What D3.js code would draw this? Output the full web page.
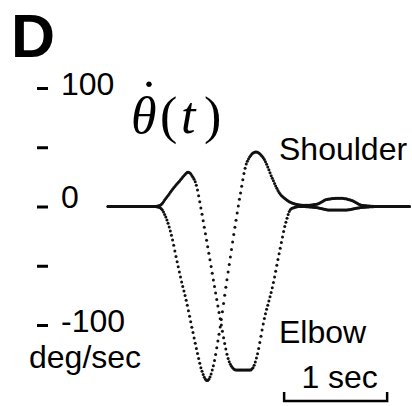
<!DOCTYPE html>
<html><head><meta charset="utf-8">
<script src="https://cdn.jsdelivr.net/npm/d3@7"></script>
<style>html,body{margin:0;padding:0;background:#fff;} svg{display:block;}</style>
</head><body>
<script>
// Joint angular velocity traces, deg/sec against time in sec
const shoulderTime = [0, 0.214, 0.456, 0.505, 0.570, 0.618, 0.667, 0.716, 0.764, 0.812, 0.861, 0.909, 0.963,
  1.021, 1.070, 1.104, 1.136, 1.184, 1.233, 1.282, 1.347, 1.437, 1.515, 1.599, 1.660, 1.728, 1.786, 1.913,
  2.029, 2.126, 2.252, 2.369, 2.466, 2.641, 2.932];
const shoulderVel = [0, 0, 0, -1, -11, -25, -45, -64, -81, -101, -121, -138, -147,
  -135, -112, -93, -73, -45, -17, 9, 37, 46, 40, 23, 12, 6, 3, 1,
  2, 6, 7, 5, 1, 0, 0];

const elbowTime = [0, 0.214, 0.456, 0.505, 0.563, 0.631, 0.699, 0.748, 0.777, 0.816, 0.861, 0.893, 0.922,
  0.958, 0.990, 1.019, 1.055, 1.104, 1.136, 1.165, 1.201, 1.243, 1.379, 1.408, 1.444, 1.517, 1.599, 1.663,
  1.728, 1.777, 1.864, 2.029, 2.155, 2.301, 2.447, 2.641, 2.932];
const elbowVel = [0, 0, 0, 1, 7, 15, 22, 27, 29, 26, 17, 3, -11,
  -29, -45, -60, -78, -102, -117, -128, -135, -138, -138, -136, -127, -95, -67, -39,
  -13, -2, 0, -1, -3, -3, -1, 0, 0];

const yTickValues = [-100, -50, 0, 50, 100];
const yTickLabels = ["-100", "", "0", "", "100"];
const unitLabel = "deg/sec";
const seriesNames = ["Shoulder", "Elbow"];
const scaleBarStart = 1.71;   // sec
const scaleBarLength = 1;     // sec
const scaleBarLabel = "1 sec";
const panelLetter = "D";
const sampleStep = 0.011;     // sec between recorded samples

const W = 412, H = 406;
const sans = "'Liberation Sans', Arial, Helvetica, sans-serif";
const serif = "'Liberation Serif', 'Times New Roman', serif";

const svg = d3.select("body").append("svg").attr("width", W).attr("height", H);
svg.append("rect").attr("width", W).attr("height", H).attr("fill", "#fff");

const x = d3.scaleLinear().domain([0, 3]).range([108, 417]);
const y = d3.scaleLinear().domain([-100, 100]).range([325, 88]);

// panel letter
svg.append("text").attr("x", 11).attr("y", 57)
  .attr("font-family", sans).attr("font-weight", "bold").attr("font-size", 61)
  .text(panelLetter);

// y axis: detached short ticks with labels to the right
const yAxis = d3.axisRight(y).tickValues(yTickValues).tickSize(11).tickPadding(13)
  .tickFormat((d, i) => yTickLabels[i]);
const ag = svg.append("g").attr("transform", "translate(37,0)").call(yAxis);
ag.select(".domain").remove();
ag.selectAll(".tick line").attr("stroke", "#000").attr("stroke-width", 3);
ag.selectAll(".tick text").attr("fill", "#000").attr("font-family", sans).attr("font-size", 32)
  .attr("dy", d => d === 0 ? "0.03em" : "0.2em");

svg.append("text").attr("x", 29).attr("y", 368)
  .attr("font-family", sans).attr("font-size", 32).text(unitLabel);

// traces: a smooth curve through the readings, drawn as the sampled points of the record
const lineGen = d3.line().x(d => x(d[0])).y(d => y(d[1])).curve(d3.curveMonotoneX);
const series = [
  d3.zip(shoulderTime, shoulderVel),
  d3.zip(elbowTime, elbowVel)
];
const guide = svg.append("g").attr("fill", "none").attr("stroke", "none");
const dotsG = svg.append("g").attr("fill", "#111");

series.forEach(pts => {
  const p = guide.append("path").attr("d", lineGen(pts)).node();
  const total = p.getTotalLength();
  const pointAtX = px => {
    let lo = 0, hi = total;
    for (let k = 0; k < 30; k++) {
      const mid = (lo + hi) / 2;
      if (p.getPointAtLength(mid).x < px) lo = mid; else hi = mid;
    }
    return p.getPointAtLength((lo + hi) / 2);
  };
  const t0 = pts[0][0], t1 = pts[pts.length - 1][0];
  const samples = d3.range(t0, t1 + 1e-9, sampleStep).map(t => pointAtX(x(t)));
  dotsG.selectAll(null).data(samples).enter().append("circle")
    .attr("cx", d => d.x).attr("cy", d => d.y).attr("r", 1.5);
});

// series labels
svg.append("text").attr("x", 279).attr("y", 160)
  .attr("font-family", sans).attr("font-size", 32).text(seriesNames[0]);
svg.append("text").attr("x", 279).attr("y", 343)
  .attr("font-family", sans).attr("font-size", 32).text(seriesNames[1]);

// angular velocity symbol: theta with a dot above, then (t)
const sym = svg.append("text").attr("font-family", serif).attr("font-size", 52).attr("fill", "#000");
sym.append("tspan").attr("x", 131).attr("y", 133).attr("font-style", "italic").text("θ");
sym.append("tspan").attr("x", 149).attr("y", 117).attr("text-anchor", "middle").text("˙");
sym.append("tspan").attr("x", 160).attr("y", 133).attr("text-anchor", "start").text("(");
sym.append("tspan").attr("x", 181).attr("y", 133).attr("font-style", "italic").text("t");
sym.append("tspan").attr("x", 204).attr("y", 133).text(")");

// time scale bar
const bx0 = x(scaleBarStart), bx1 = x(scaleBarStart + scaleBarLength);
svg.append("path")
  .attr("d", `M${bx0},392V401H${bx1}V392`)
  .attr("fill", "none").attr("stroke", "#000").attr("stroke-width", 2.5);
svg.append("text").attr("x", (bx0 + bx1) / 2 + 4).attr("y", 388).attr("text-anchor", "middle")
  .attr("font-family", sans).attr("font-size", 32).text(scaleBarLabel);
</script>
</body></html>
